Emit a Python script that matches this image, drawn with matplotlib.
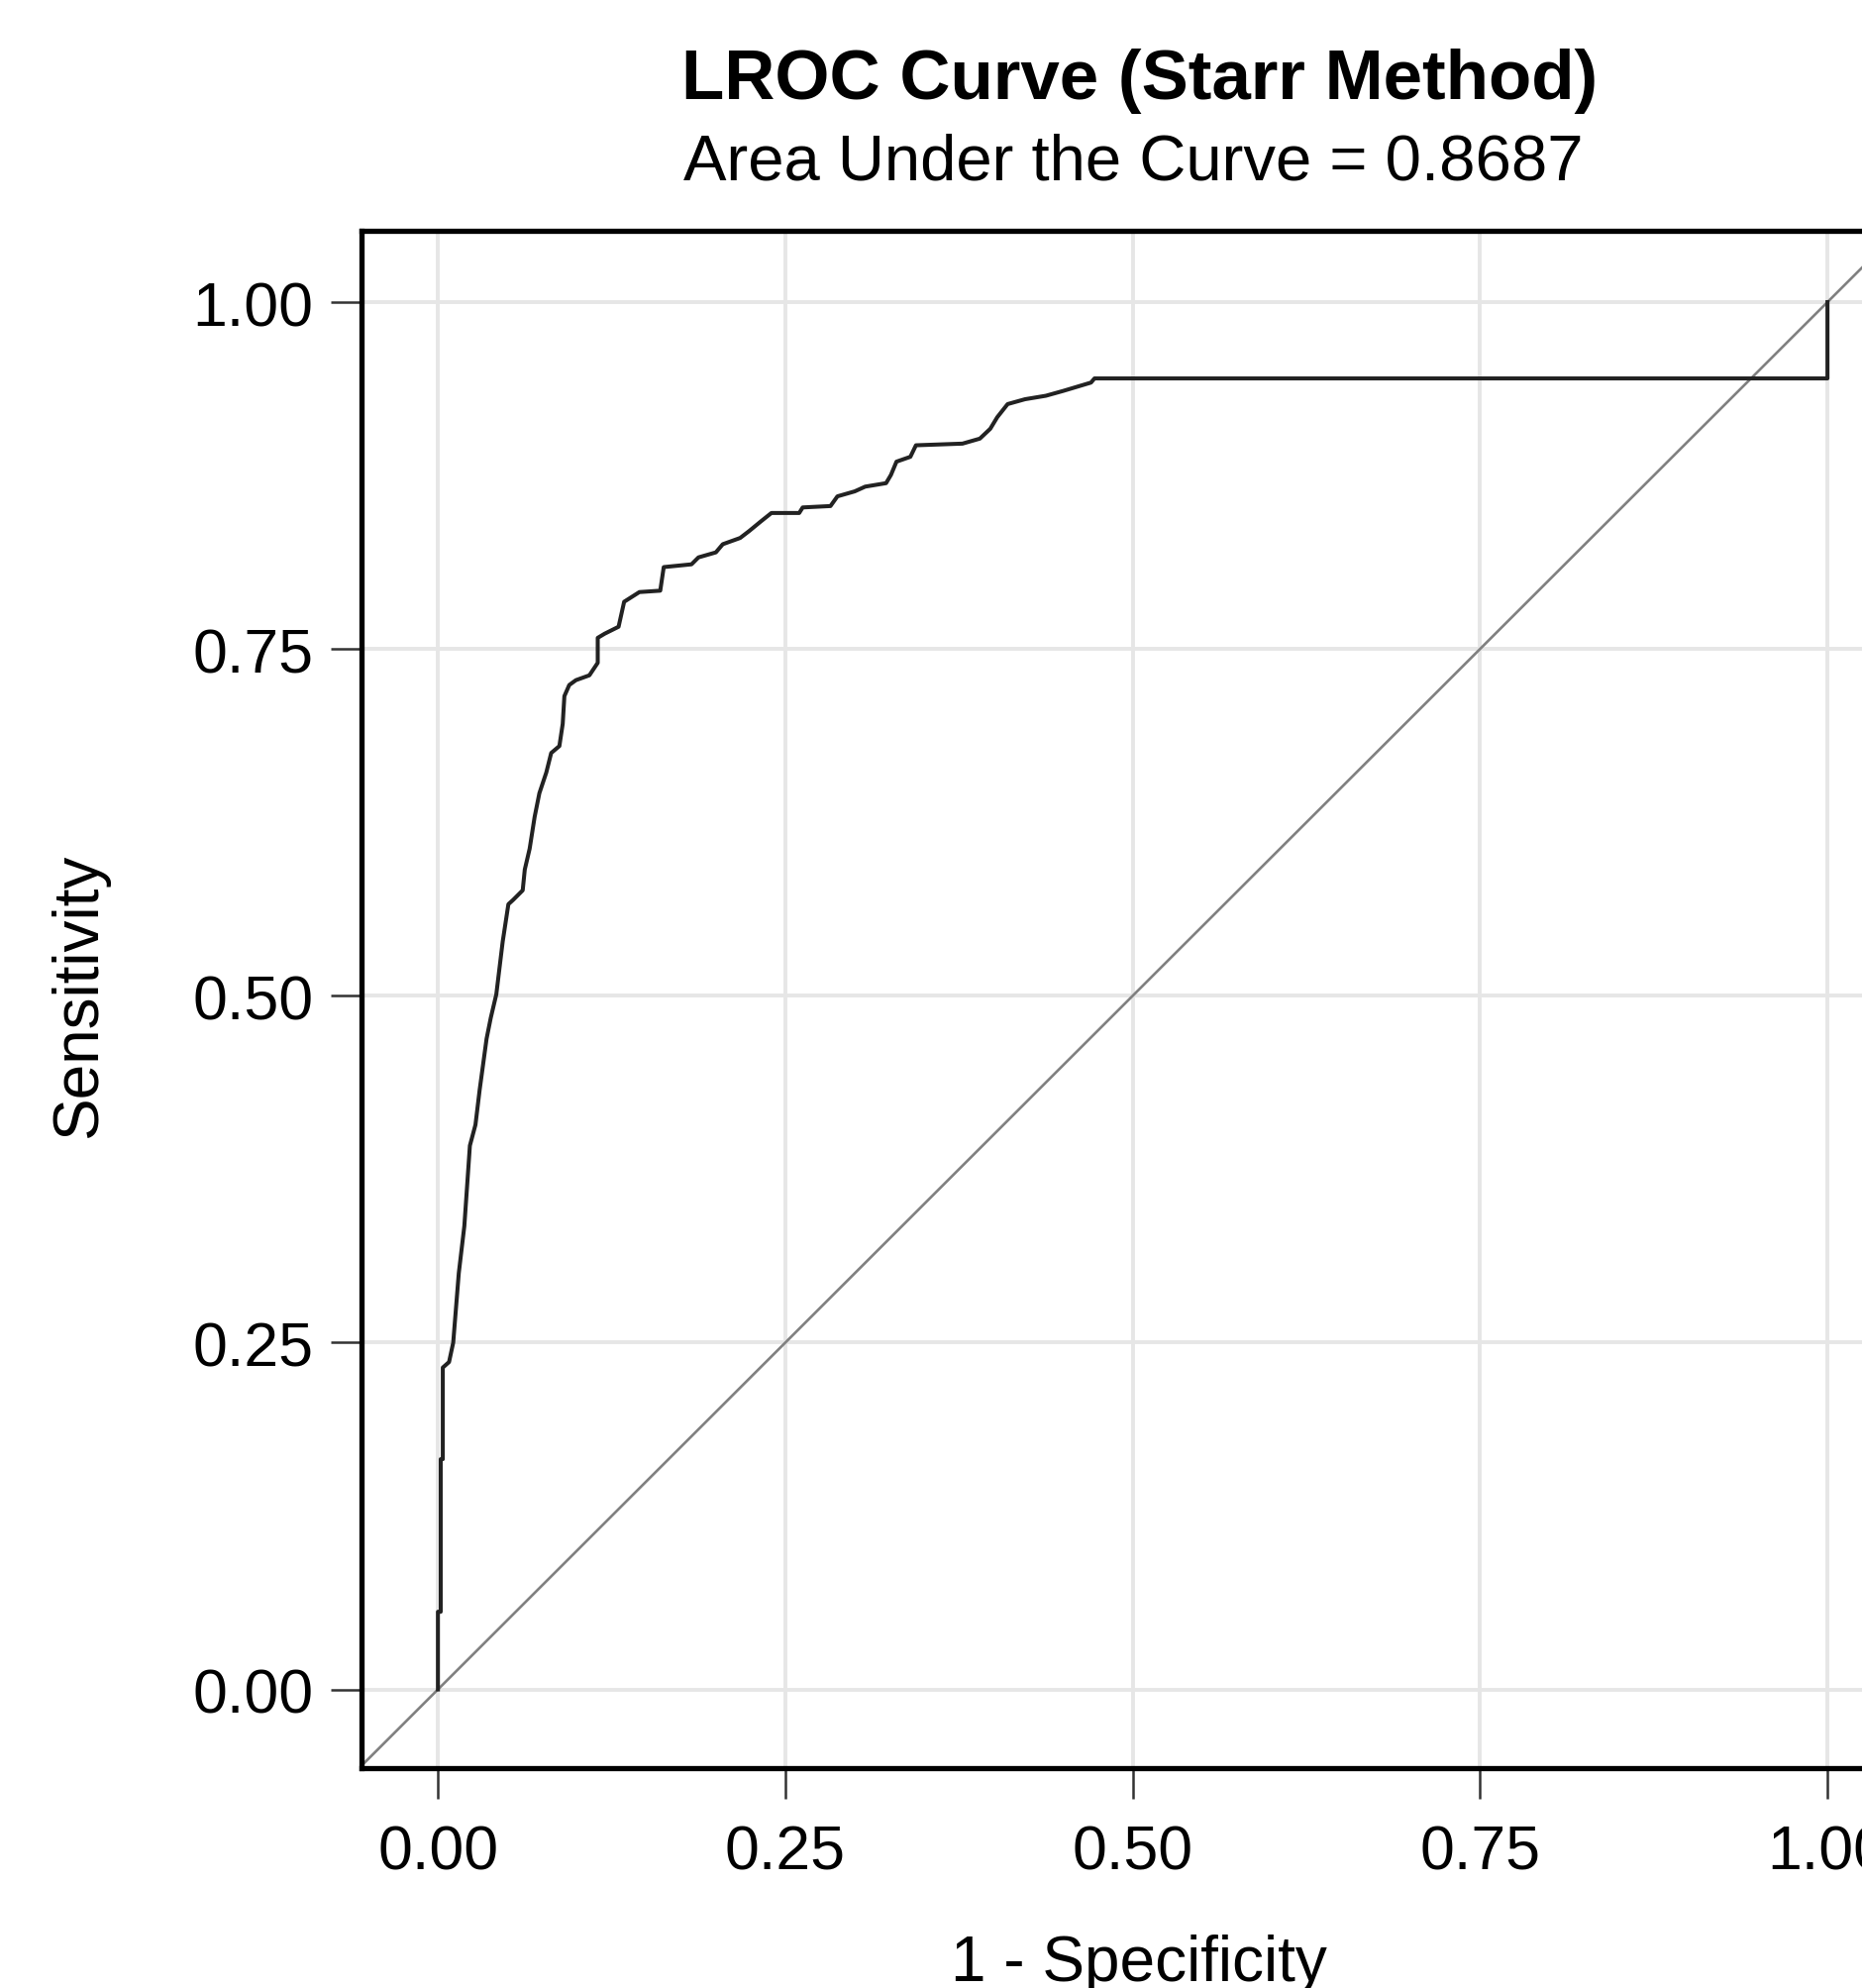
import matplotlib
matplotlib.use("Agg")
import matplotlib.pyplot as plt

plt.rcParams['font.family'] = ['Liberation Sans', 'DejaVu Sans']

# LROC curve points
fpr = [0.0, 0.0, 0.002, 0.002, 0.0035, 0.0035, 0.008, 0.011, 0.015, 0.019,
       0.023, 0.027, 0.030, 0.035, 0.038, 0.042, 0.0466, 0.0507, 0.054, 0.061,
       0.0625, 0.066, 0.0696, 0.073, 0.078, 0.0815, 0.0874, 0.0898, 0.091, 0.0945,
       0.0993, 0.109, 0.115, 0.115, 0.12, 0.13, 0.134, 0.145, 0.16, 0.1625,
       0.1825, 0.1875, 0.2, 0.205, 0.2175, 0.224, 0.2325, 0.24, 0.26, 0.2625,
       0.2825, 0.2875, 0.30, 0.3075, 0.3225, 0.326, 0.33, 0.34, 0.344, 0.3775,
       0.39, 0.3975, 0.4025, 0.41, 0.4225, 0.4375, 0.45, 0.47, 0.4725, 1.0, 1.0]
tpr = [0.0, 0.056, 0.056, 0.166, 0.166, 0.232, 0.236, 0.25, 0.30, 0.334,
       0.392, 0.407, 0.432, 0.469, 0.484, 0.501, 0.539, 0.566, 0.569, 0.576,
       0.591, 0.606, 0.629, 0.646, 0.661, 0.675, 0.680, 0.696, 0.716, 0.724,
       0.7275, 0.731, 0.740, 0.758, 0.761, 0.766, 0.784, 0.791, 0.792, 0.809,
       0.811, 0.816, 0.8196, 0.8255, 0.830, 0.835, 0.842, 0.848, 0.848, 0.852,
       0.853, 0.860, 0.8636, 0.867, 0.8695, 0.8754, 0.885, 0.8885, 0.8968, 0.898,
       0.9016, 0.9087, 0.917, 0.9265, 0.930, 0.9325, 0.936, 0.942, 0.945, 0.945, 1.0]

ticks = [0.0, 0.25, 0.5, 0.75, 1.0]
tick_labels = ["0.00", "0.25", "0.50", "0.75", "1.00"]
title = "LROC Curve (Starr Method)"
subtitle = "Area Under the Curve = 0.8687"

fig = plt.figure(figsize=(18.81, 20.08), dpi=100)
ax = fig.add_axes([0.19405, 0.11056, 0.8279, 0.7729])

ax.set_xlim(-0.055, 1.055)
ax.set_ylim(-0.0567, 1.0514)

ax.grid(True, color="#e6e6e6", linewidth=2.8, zorder=0)
ax.set_axisbelow(True)

ax.axline((0, 0), slope=1, color="#808080", linewidth=1.9, zorder=2)
ax.plot(fpr, tpr, color="#222222", linewidth=2.9, zorder=3)

ax.set_xticks(ticks)
ax.set_xticklabels(tick_labels)
ax.set_yticks(ticks)
ax.set_yticklabels(tick_labels)
ax.tick_params(axis="both", direction="out", length=22, width=1.8,
               color="#333333", labelsize=45)
ax.tick_params(axis="x", pad=18)
ax.tick_params(axis="y", pad=13)

for s in ax.spines.values():
    s.set_linewidth(3.8)
    s.set_color("black")

fig.text(0.6119, 1 - 100 / 2008, title, ha="center", va="baseline",
         fontsize=51, fontweight="bold")
fig.text(0.6085, 1 - 181 / 2008, subtitle, ha="center", va="baseline",
         fontsize=47)
fig.text(0.6114, 1 - 2000 / 2008, "1 - Specificity", ha="center",
         va="baseline", fontsize=46)
fig.text(80 / 1881, 1 - 1005 / 2008, "Sensitivity", ha="center", va="center",
         rotation=90, fontsize=46)

fig.savefig("out.png", dpi=100)
